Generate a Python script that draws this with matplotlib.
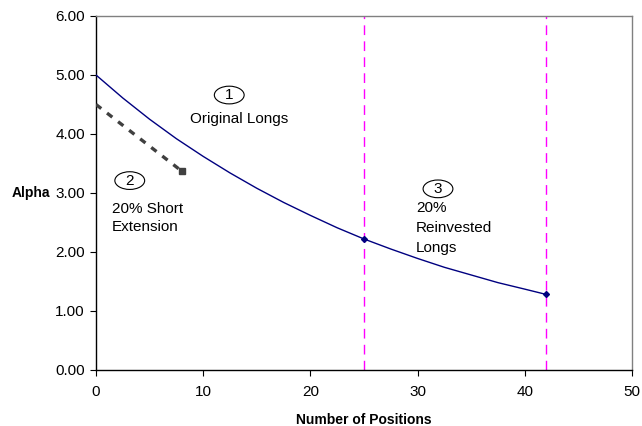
import matplotlib
matplotlib.use("Agg")
import matplotlib.pyplot as plt
from matplotlib.patches import Ellipse

plt.rcParams['font.family'] = ['Liberation Sans', 'DejaVu Sans']

# original longs curve
positions = [0, 2.5, 5, 7.5, 10, 12.5, 15, 17.5, 20, 22.5, 25,
             27.5, 30, 32.5, 35, 37.5, 40, 42]
alpha_long = [5.00, 4.61, 4.25, 3.92, 3.62, 3.34, 3.08, 2.84, 2.62, 2.41, 2.22,
              2.05, 1.89, 1.74, 1.61, 1.48, 1.37, 1.28]
marked = [10, 17]  # indices of the points at 25 and 42

# short extension
short_pos = [0, 8]
short_alpha = [4.50, 3.37]

# stage boundaries
boundaries = [25, 42]

x_ticks = [0, 10, 20, 30, 40, 50]
y_ticks = [0, 1, 2, 3, 4, 5, 6]

fig = plt.figure(figsize=(6.42, 4.26), dpi=100)
ax = fig.add_axes([0.1495, 0.1315, 0.835, 0.831])

for b in boundaries:
    ax.axvline(b, color='#ff00ff', lw=1.0, dashes=(7, 4.5), zorder=1)

ax.plot(positions, alpha_long, color='#000080', lw=1.0,
        marker='D', markersize=3, markevery=marked, zorder=3)
ax.plot(short_pos, short_alpha, color='#404040', lw=2.4, dashes=(2, 2.2),
        marker='s', markersize=4, markevery=[1], zorder=3)

ax.set_xlim(0, 50)
ax.set_ylim(0, 6)
ax.set_xticks(x_ticks)
ax.set_yticks(y_ticks)
ax.set_yticklabels([f"{v:.2f}" for v in y_ticks])
ax.tick_params(direction='out', length=4, width=0.8, labelsize=11)
ax.tick_params(axis='x', pad=7)
ax.tick_params(axis='y', pad=4)

ax.spines['left'].set_color('black')
ax.spines['bottom'].set_color('black')
ax.spines['top'].set_color('#808080')
ax.spines['right'].set_color('#808080')
for s in ax.spines.values():
    s.set_linewidth(1.0)

ax.set_xlabel('Number of Positions', fontweight='bold', fontsize=10, labelpad=10)
ax.set_ylabel('Alpha', fontweight='bold', fontsize=10, rotation=0,
              ha='right', va='center')
ax.yaxis.set_label_coords(-0.086, 0.5)

# circled step numbers
steps = [('1', 12.43, 4.66), ('2', 3.15, 3.21), ('3', 31.9, 3.07)]
for label, cx, cy in steps:
    ax.add_patch(Ellipse((cx, cy), 2.78, 0.30, fc='white', ec='black',
                         lw=0.8, zorder=4))
    ax.text(cx, cy, label, ha='center', va='center', fontsize=11, zorder=5)

notes = [('Original Longs', 8.8, 4.19),
         ('20% Short', 1.48, 2.66), ('Extension', 1.48, 2.356),
         ('20%', 29.87, 2.68), ('Reinvested', 29.87, 2.34),
         ('Longs', 29.87, 2.0)]
for txt, tx, ty in notes:
    ax.text(tx, ty, txt, ha='left', va='baseline', fontsize=11)

fig.savefig('out.png', dpi=100)
